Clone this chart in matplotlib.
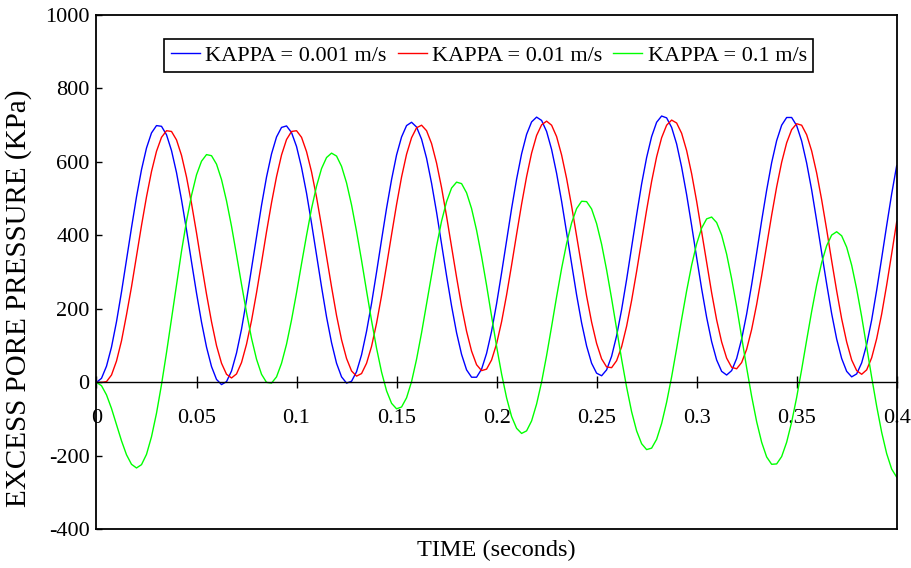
import numpy as np
import matplotlib
matplotlib.use('Agg')
import matplotlib.pyplot as plt

plt.rcParams['font.family'] = ['Liberation Serif', 'DejaVu Serif']
plt.rcParams['axes.unicode_minus'] = False

# time axis, sampled every 2.5 ms
time = np.linspace(0.0, 0.4, 161)

# excess pore pressure (KPa) for each permeability
p_kappa_001 = [
    0, 11, 44, 96, 165, 246, 333, 421, 505, 579, 638, 679, 699,
    697, 674, 631, 571, 497, 415, 328, 243, 164, 96, 43, 8, -6,
    2, 31, 80, 145, 224, 310, 397, 482, 559, 622, 668, 694,
    698, 680, 642, 585, 515, 433, 346, 260, 178, 108, 52, 15, -2,
    3, 29, 75, 139, 215, 300, 388, 474, 552, 619, 668, 699,
    708, 695, 662, 610, 542, 463, 377, 290, 208, 135, 76, 34, 14,
    14, 36, 79, 139, 214, 298, 386, 473, 553, 622, 675, 709, 722,
    713, 683, 634, 569, 493, 408, 322, 238, 162, 99, 52, 25,
    18, 34, 71, 127, 198, 280, 368, 456, 540, 612, 669, 708, 725,
    720, 694, 649, 586, 511, 427, 340, 255, 177, 111, 61, 30,
    20, 32, 65, 118, 186, 266, 352, 440, 523, 598, 658, 700, 721,
    721, 699, 657, 597, 524, 440, 353, 268, 187, 118, 65, 30, 15,
    23, 53, 103, 170, 251, 338, 427, 513, 590,
]

p_kappa_01 = [
    0, 0,
    2, 20, 58, 113, 184, 260, 344, 427, 505, 574, 629, 667, 685,
    683, 660, 618, 559, 487, 407, 322, 240, 165, 100, 52, 22,
    12, 23, 54, 104, 168, 244, 326, 410, 489, 560, 619, 661, 683,
    685, 667, 628, 573, 504, 425, 342, 260, 182, 116, 65, 31, 17,
    24, 52, 98, 161, 236, 318, 402, 484, 559, 621, 666, 693,
    700, 685, 650, 597, 530, 452, 369, 286, 207, 139, 85, 48, 32,
    36, 61, 105, 165, 238, 319, 403, 485, 560, 624, 672, 701,
    711, 700, 669, 619, 555, 480, 398, 315, 235, 164, 106, 64, 42,
    40, 59, 97, 153, 223, 302, 386, 469, 547, 614, 666, 700, 714,
    706, 678, 631, 568, 493, 410, 326, 244, 170, 110, 66, 41,
    37, 54, 90, 144, 212, 290, 372, 455, 532, 599, 652, 688, 704,
    700, 674, 630, 570, 497, 416, 331, 249, 173, 110, 61, 32,
    22, 34, 67, 119, 186, 265, 350, 437,
]

p_kappa_1 = [
    0,
    -9, -34, -71, -115, -159, -197, -223, -233,
    -224, -196, -148, -84, -6, 81, 173, 267, 357, 439, 509, 565, 602, 620,
    617, 594, 552, 494, 425, 347, 267, 190, 120, 63, 22, 0,
    -2, 15, 52, 104, 170, 244, 323, 400, 473, 534, 582, 612, 624,
    616, 588, 543, 483, 411, 332, 249, 168, 93, 28, -23, -57, -72,
    -67, -42, 2, 63, 135, 214, 294, 371, 439, 492, 529, 545,
    541, 516, 473, 414, 343, 264, 180, 98, 23, -42, -93, -125, -139,
    -132, -105, -59, 1, 73, 152, 233, 310, 378, 434, 473, 493,
    492, 472, 432, 376, 306, 228, 145, 63, -13, -80, -132, -167, -183,
    -179, -155, -112, -54, 15, 92, 172, 249, 319, 377, 420, 445,
    450, 435, 401, 349, 282, 206, 123, 40, -38, -107, -163, -203, -223,
    -222, -202, -163, -108, -41, 35, 115, 193, 265, 326, 372, 401,
    410, 399, 368, 319, 254, 179, 97, 14, -65, -136, -194, -236, -258,
]

series_labels = ['KAPPA = 0.001 m/s', 'KAPPA = 0.01 m/s', 'KAPPA = 0.1 m/s']
series_colors = ['#0000ff', '#ff0000', '#00ff00']

x_ticks = [0, 0.05, 0.1, 0.15, 0.2, 0.25, 0.3, 0.35, 0.4]
x_ticklabels = ['0', '0.05', '0.1', '0.15', '0.2', '0.25', '0.3', '0.35', '0.4']
y_ticks = [-400, -200, 0, 200, 400, 600, 800, 1000]
y_ticklabels = ['-400', '-200', '0', '200', '400', '600', '800', '1000']

fig = plt.figure(figsize=(9.12, 5.68), dpi=100)
ax = fig.add_axes([0.1058, 0.0681, 0.8774, 0.9055])

for values, label, color in zip([p_kappa_001, p_kappa_01, p_kappa_1],
                                series_labels, series_colors):
    ax.plot(time, values, color=color, lw=1.0, label=label)

ax.set_xlim(0, 0.4)
ax.set_ylim(-400, 1000)

# time axis runs through zero pressure, frame is closed with a line underneath
ax.spines['bottom'].set_position(('data', 0))
ax.spines['bottom'].set_linewidth(1.0)
for side in ['left', 'top', 'right']:
    ax.spines[side].set_linewidth(1.3)
ax.plot([0, 1], [0, 0], transform=ax.transAxes, color='black', lw=1.3,
        clip_on=False, zorder=3)

ax.set_xticks(x_ticks, x_ticklabels)
ax.set_yticks(y_ticks, y_ticklabels)
ax.tick_params(axis='x', direction='inout', length=8.6, width=1.0,
               pad=15, labelsize=16)
ax.tick_params(axis='y', direction='in', length=4.5, width=1.0,
               pad=5, labelsize=16)

leg = ax.legend(loc='upper left', bbox_to_anchor=(0.0847, 0.9533), ncol=3,
                fontsize=16, frameon=True, fancybox=False, framealpha=1,
                borderpad=0.29, borderaxespad=0, handlelength=1.3,
                handletextpad=0.25, columnspacing=0.5)
leg.get_frame().set_edgecolor('black')
leg.get_frame().set_linewidth(1.2)

fig.text(495.9 / 912, 1 - 550 / 568, 'TIME (seconds)', fontsize=17.5,
         ha='center', va='center')
fig.text(18.5 / 912, 1 - 298 / 568, 'EXCESS PORE PRESSURE (KPa)', fontsize=21,
         rotation=90, ha='center', va='center')

fig.savefig('out.png', dpi=100)
